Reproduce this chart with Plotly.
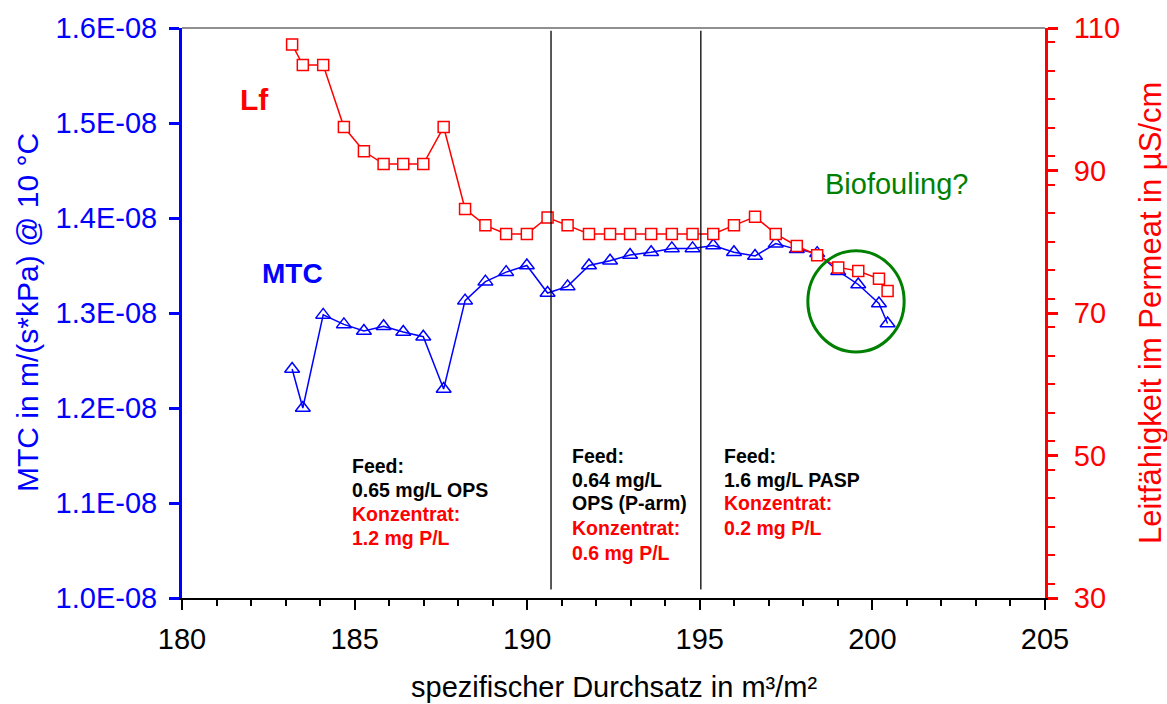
import plotly.graph_objects as go

# spezifischer Durchsatz (m³/m²)
durchsatz = [183.19, 183.50, 184.09, 184.69, 185.27, 185.84, 186.41, 186.99, 187.58, 188.20,
             188.79, 189.39, 189.99, 190.59, 191.17, 191.79, 192.40, 192.98, 193.59, 194.19,
             194.79, 195.39, 195.99, 196.60, 197.20, 197.81, 198.40, 199.01, 199.59, 200.19,
             200.44]
# Leitfähigkeit im Permeat (µS/cm)
lf = [107.7, 104.8, 104.8, 96.1, 92.7, 90.9, 90.9, 90.9, 96.1, 84.6,
      82.3, 81.1, 81.1, 83.4, 82.3, 81.1, 81.1, 81.1, 81.1, 81.1,
      81.1, 81.1, 82.3, 83.5, 81.1, 79.4, 78.1, 76.4, 75.9, 74.8,
      73.1]
# MTC (in 1E-08 m/(s*kPa))
mtc_e8 = [1.241, 1.200, 1.298, 1.288, 1.281, 1.286, 1.280, 1.275, 1.220, 1.313,
          1.333, 1.343, 1.350, 1.321, 1.328, 1.350, 1.355, 1.361, 1.364, 1.368,
          1.368, 1.371, 1.364, 1.360, 1.373, 1.367, 1.363, 1.344, 1.330, 1.310,
          1.289]
mtc = [v * 1e-8 for v in mtc_e8]

left_tickvals = [1.0e-8, 1.1e-8, 1.2e-8, 1.3e-8, 1.4e-8, 1.5e-8, 1.6e-8]
left_ticktext = ["1.0E-08", "1.1E-08", "1.2E-08", "1.3E-08", "1.4E-08", "1.5E-08", "1.6E-08"]

phase_bounds = [190.69, 195.03]

blocks = [
    (184.87, [("Feed:", "black"), ("0.65 mg/L OPS", "black"), ("Konzentrat:", "red"), ("1.2 mg P/L", "red")],
     [1.1393, 1.1141, 1.0880, 1.0628]),
    (191.24, [("Feed:", "black"), ("0.64 mg/L", "black"), ("OPS (P-arm)", "black"), ("Konzentrat:", "red"), ("0.6 mg P/L", "red")],
     [1.1497, 1.1246, 1.0995, 1.0733, 1.0471]),
    (195.64, [("Feed:", "black"), ("1.6 mg/L PASP", "black"), ("Konzentrat:", "red"), ("0.2 mg P/L", "red")],
     [1.1497, 1.1246, 1.0995, 1.0733]),
]

FONT = "Liberation Sans, Arial, sans-serif"
BLUE = "#0000FF"
RED = "#FF0000"
GREEN = "#008000"

fig = go.Figure()
fig.add_trace(go.Scatter(
    x=durchsatz, y=mtc, mode="lines+markers", name="MTC", yaxis="y",
    line=dict(color=BLUE, width=1.5),
    marker=dict(symbol="triangle-up-open", size=13, color=BLUE, line=dict(width=1.5, color=BLUE)),
))
fig.add_trace(go.Scatter(
    x=durchsatz, y=lf, mode="lines+markers", name="Lf", yaxis="y2",
    line=dict(color=RED, width=1.5),
    marker=dict(symbol="square", size=11, color="white", line=dict(width=1.5, color=RED)),
))

shapes = []
for xb in phase_bounds:
    shapes.append(dict(type="line", xref="x", yref="paper", x0=xb, x1=xb, y0=0.015, y1=0.995,
                       line=dict(color="black", width=1.3)))
shapes.append(dict(type="line", xref="paper", yref="paper", x0=0, x1=1, y0=1, y1=1,
                   line=dict(color="#909090", width=2)))
shapes.append(dict(type="circle", xref="x", yref="y", x0=198.13, x1=200.92, y0=1.2590e-8, y1=1.3655e-8,
                   line=dict(color=GREEN, width=3)))

annotations = []
for x0, lines, ys in blocks:
    for (txt, col), yv in zip(lines, ys):
        annotations.append(dict(x=x0, y=yv * 1e-8, xref="x", yref="y", text="<b>" + txt + "</b>",
                                showarrow=False, xanchor="left", yanchor="middle",
                                font=dict(family=FONT, size=19.5, color=col)))
annotations += [
    dict(x=182.11, y=1.5246e-8, xref="x", yref="y", text="<b>Lf</b>", showarrow=False,
         xanchor="center", yanchor="middle", font=dict(family=FONT, size=30, color=RED)),
    dict(x=183.19, y=1.3414e-8, xref="x", yref="y", text="<b>MTC</b>", showarrow=False,
         xanchor="center", yanchor="middle", font=dict(family=FONT, size=28, color=BLUE)),
    dict(x=200.70, y=1.4356e-8, xref="x", yref="y", text="Biofouling?", showarrow=False,
         xanchor="center", yanchor="middle", font=dict(family=FONT, size=29, color=GREEN)),
    dict(x=-0.1796, y=0.5, xref="paper", yref="paper", text="MTC in m/(s*kPa) @ 10 °C",
         xanchor="center", yanchor="middle",
         textangle=-90, showarrow=False, font=dict(family=FONT, size=30, color=BLUE)),
    dict(x=1.1217, y=0.5, xref="paper", yref="paper", text="Leitfähigkeit im Permeat in µS/cm",
         xanchor="center", yanchor="middle",
         textangle=-90, showarrow=False, font=dict(family=FONT, size=31, color=RED)),
    dict(x=0.5, y=-0.157, xref="paper", yref="paper", text="spezifischer Durchsatz in m³/m²",
         xanchor="center", yanchor="middle", showarrow=False,
         font=dict(family=FONT, size=29, color="black")),
]

fig.update_layout(
    width=1167, height=704,
    margin=dict(l=182, r=122, t=25, b=106),
    paper_bgcolor="white", plot_bgcolor="white",
    showlegend=False,
    font=dict(family=FONT),
    xaxis=dict(range=[180, 205], dtick=5, tick0=180, showgrid=False, zeroline=False,
               showline=True, linecolor="black", linewidth=2,
               ticks="outside", ticklen=10, tickwidth=2, tickcolor="black",
               minor=dict(dtick=1, ticks="outside", ticklen=6, tickwidth=2, tickcolor="black", showgrid=False),
               tickfont=dict(family=FONT, size=29, color="black"), ticklabelstandoff=4),
    yaxis=dict(range=[1.0e-8, 1.6e-8], tickvals=left_tickvals, ticktext=left_ticktext,
               showgrid=False, zeroline=False, showline=True, linecolor=BLUE, linewidth=3,
               ticks="outside", ticklen=10, tickwidth=3, tickcolor=BLUE,
               tickfont=dict(family=FONT, size=29, color=BLUE), ticklabelstandoff=6),
    yaxis2=dict(range=[30, 110], dtick=20, tick0=30, overlaying="y", side="right",
                showgrid=False, zeroline=False, showline=True, linecolor=RED, linewidth=3,
                ticks="outside", ticklen=10, tickwidth=3, tickcolor=RED,
                minor=dict(dtick=4, ticks="outside", ticklen=7, tickwidth=2, tickcolor=RED, showgrid=False),
                tickfont=dict(family=FONT, size=29, color=RED), ticklabelstandoff=10),
    shapes=shapes,
    annotations=annotations,
)

fig.write_html("out.html")
